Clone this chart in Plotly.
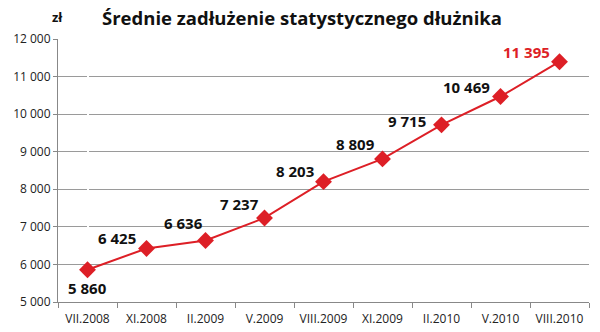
import plotly.graph_objects as go

categories = ["VII.2008", "XI.2008", "II.2009", "V.2009", "VIII.2009", "XI.2009", "II.2010", "V.2010", "VIII.2010"]
values = [5860, 6425, 6636, 7237, 8203, 8809, 9715, 10469, 11395]
labels = ["5 860", "6 425", "6 636", "7 237", "8 203", "8 809", "9 715", "10 469", "11 395"]
y_ticks = [5000, 6000, 7000, 8000, 9000, 10000, 11000, 12000]
y_tick_text = ["5 000", "6 000", "7 000", "8 000", "9 000", "10 000", "11 000", "12 000"]

# label offsets (px) relative to each point
offsets = [(0, -18), (-30, 10), (-22, 18), (-25, 14), (-29, 11), (-27, 15), (-35, 4), (-34, 10), (-33, 10)]

RED = "#dd1f26"

fig = go.Figure()
fig.add_trace(go.Scatter(
    x=list(range(len(categories))), y=values, mode="lines+markers",
    line=dict(color=RED, width=2),
    marker=dict(symbol="diamond", size=13, color=RED),
    hoverinfo="skip",
))

for i, (v, t) in enumerate(zip(values, labels)):
    dx, dy = offsets[i]
    fig.add_annotation(
        x=i, y=v, xref="x", yref="y", text="<b>%s</b>" % t, showarrow=False,
        xanchor="center", yanchor="middle",
        xshift=dx, yshift=dy,
        font=dict(family="Open Sans, sans-serif", size=15,
                  color=RED if i == len(values) - 1 else "#111111"),
    )

fig.add_annotation(
    xref="paper", yref="paper", x=0.46, y=1, yshift=22, xanchor="center", yanchor="middle",
    text="<b>Średnie zadłużenie statystycznego dłużnika</b>", showarrow=False,
    font=dict(family="Open Sans, sans-serif", size=18.5, color="#111111"),
)
fig.add_annotation(
    xref="paper", yref="paper", x=0, y=1, xshift=-1, yshift=22, xanchor="center", yanchor="middle",
    text="<b>zł</b>", showarrow=False,
    font=dict(family="Open Sans, sans-serif", size=13, color="#111111"),
)

fig.update_layout(
    width=600, height=332,
    margin=dict(l=58, r=11, t=39, b=30, autoexpand=False),
    paper_bgcolor="white", plot_bgcolor="white",
    showlegend=False,
    font=dict(family="Open Sans, sans-serif", size=12, color="#222222"),
)
fig.update_xaxes(
    automargin=False,
    tickmode="array", tickvals=list(range(len(categories))), ticktext=categories,
    ticks="", showgrid=False, showline=True, linecolor="#888888",
    tickfont=dict(size=12, color="#222222"), range=[-0.5, 8.5],
    ticklabelstandoff=6,
    minor=dict(tickmode="array", tickvals=[k - 0.5 for k in range(len(categories) + 1)],
               ticks="outside", ticklen=5, tickcolor="#888888", showgrid=False),
)
fig.update_yaxes(
    automargin=False,
    range=[5000, 12000], tickvals=y_ticks, ticktext=y_tick_text,
    showgrid=True, gridcolor="#9a9a9a", gridwidth=1,
    showline=True, linecolor="#888888", ticks="outside", ticklen=4, tickcolor="#888888",
    zeroline=False, tickfont=dict(size=12, color="#222222"),
)

fig.write_html("out.html")
